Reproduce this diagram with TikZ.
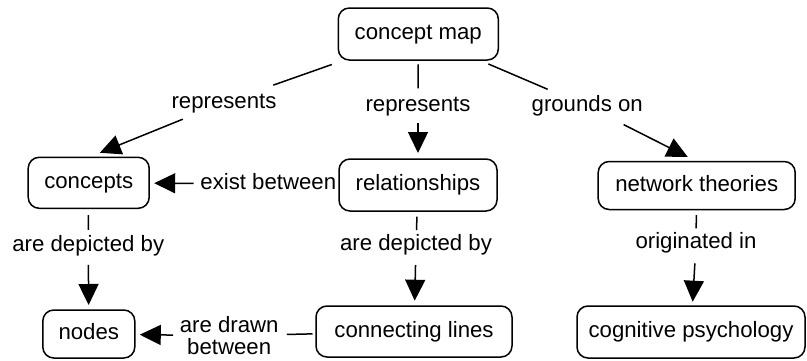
\documentclass[tikz,border=0pt]{standalone}
\usepackage{fontspec}
\setmainfont{Liberation Sans}
\usetikzlibrary{arrows.meta}
\begin{document}
\begin{tikzpicture}[x=1pt,y=-1pt,
  every node/.style={font=\fontsize{22.2}{22}\selectfont, inner sep=0pt, outer sep=0pt},
  oneline/.style={text height=16pt, text depth=5pt},
  concept/.style={oneline, draw, line width=1.5pt, rounded corners=11pt},
  linkword/.style={oneline},
  link/.style={line width=1.5pt},
  arrowlink/.style={line width=1.5pt, -{Triangle[length=21pt,width=20pt]}}]
\useasboundingbox (0,0) rectangle (807,360);

% concepts
\node[concept, minimum width=160pt, minimum height=52pt] (cmap) at (418.3,34) {concept map};
\node[concept, minimum width=121pt, minimum height=51pt] (concepts) at (88.7,182.8) {concepts};
\node[concept, minimum width=158pt, minimum height=52pt] (rel) at (418,185) {relationships};
\node[concept, minimum width=197pt, minimum height=48pt] (network) at (696.7,185.5) {network theories};
\node[concept, minimum width=92pt, minimum height=48pt] (nodes) at (88.8,334) {nodes};
\node[concept, minimum width=196pt, minimum height=51pt] (conn) at (414,331.5) {connecting lines};
\node[concept, minimum width=228pt, minimum height=52pt] (cog) at (691,332) {cognitive psychology};

% linking phrases
\node[linkword] (l1) at (224,102.5) {represents};
\node[linkword] (l2) at (418,105.5) {represents};
\node[linkword] (l3) at (587.2,106.2) {grounds on};
\node[linkword] (l7) at (268.3,183.8) {exist between};
\node[linkword] (l4) at (88.3,245.5) {are depicted by};
\node[linkword] (l5) at (416,245) {are depicted by};
\node[linkword] (l6) at (696,243.3) {originated in};
\node[align=center] (l8) at (229.2,335.8) {are drawn\\between};

% connectors
\draw[link, shorten <=13.6pt, shorten >=20.7pt] (cmap) -- (l1);
\draw[arrowlink, shorten <=16.5pt, shorten >=12pt] (l1) -- (concepts.north);
\draw[link, shorten <=4.3pt, shorten >=6.7pt] (cmap) -- (l2);
\draw[arrowlink, shorten <=7.3pt, shorten >=6pt] (l2) -- (rel);
\draw[link, shorten <=10pt, shorten >=16.3pt] (cmap) -- (l3);
\draw[arrowlink, shorten <=17.5pt, shorten >=10pt] (l3) -- (network.north);
\draw[arrowlink, shorten <=6.7pt, shorten >=5pt] (l7) -- (concepts);
\draw[link, shorten <=6.7pt, shorten >=5.2pt] (concepts) -- (l4);
\draw[arrowlink, shorten <=8.8pt, shorten >=5pt] (l4) -- (nodes);
\draw[link, shorten <=5.7pt, shorten >=4.5pt] (rel) -- (l5);
\draw[arrowlink, shorten <=9.5pt, shorten >=5.3pt] (l5) -- (conn);
\draw[link, shorten <=5.7pt, shorten >=4.5pt] (network) -- (l6);
\draw[arrowlink, shorten <=9.5pt, shorten >=4.3pt] (l6) -- (cog);
\draw[link, shorten <=3.5pt, shorten >=8.2pt] (conn) -- (l8);
\draw[arrowlink, shorten <=6.7pt, shorten >=5pt] (l8) -- (nodes);
\end{tikzpicture}
\end{document}
